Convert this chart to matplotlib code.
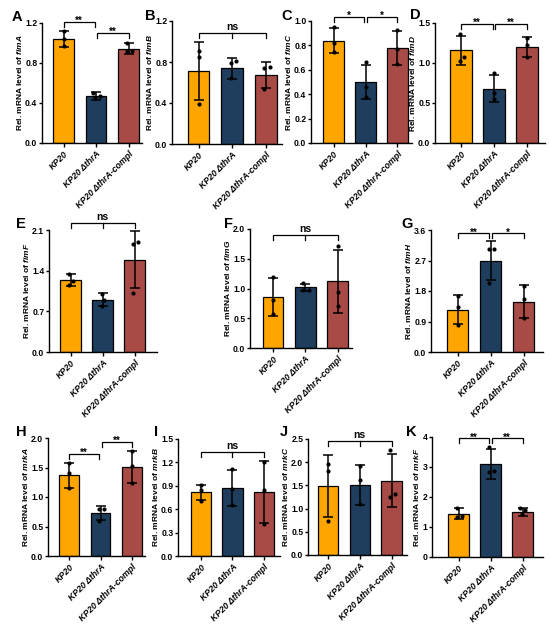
import matplotlib
matplotlib.use("Agg")
import matplotlib.pyplot as plt
import numpy as np

plt.rcParams['font.family'] = ['Liberation Sans', 'DejaVu Sans']
plt.rcParams['mathtext.fontset'] = 'custom'
plt.rcParams['mathtext.it'] = 'Liberation Sans:italic:bold'
plt.rcParams['mathtext.rm'] = 'Liberation Sans:bold'
plt.rcParams['mathtext.bf'] = 'Liberation Sans:bold'

# ---------------- data ----------------
groups = ["KP20", "KP20 \u0394thrA", "KP20 \u0394thrA-compl"]
bar_colors = ["#FFA500", "#1F3E5E", "#A84B46"]

fimA_mean = [1.04, 0.47, 0.945]
fimA_sd = [0.08, 0.04, 0.055]
fimA_pts = [[1.12, 1.04, 0.97], [0.50, 0.47, 0.45], [1.00, 0.92, 0.92]]

fimB_mean = [0.712, 0.738, 0.673]
fimB_sd = [0.285, 0.10, 0.125]
fimB_pts = [[0.91, 0.85, 0.39], [0.81, 0.79, 0.64], [0.75, 0.74, 0.54]]

fimC_mean = [0.84, 0.50, 0.78]
fimC_sd = [0.105, 0.14, 0.14]
fimC_pts = [[0.95, 0.82, 0.75], [0.66, 0.46, 0.38], [0.93, 0.77, 0.65]]

fimD_mean = [1.16, 0.68, 1.20]
fimD_sd = [0.18, 0.17, 0.125]
fimD_pts = [[1.36, 1.08, 1.03], [0.87, 0.62, 0.55], [1.31, 1.23, 1.08]]

fimF_mean = [1.24, 0.90, 1.59]
fimF_sd = [0.10, 0.115, 0.495]
fimF_pts = [[1.34, 1.23, 1.16], [1.00, 0.89, 0.80], [1.90, 1.86, 1.01]]

fimG_mean = [0.86, 1.02, 1.12]
fimG_sd = [0.32, 0.06, 0.53]
fimG_pts = [[1.19, 0.81, 0.57], [1.10, 0.98, 0.98], [1.72, 0.94, 0.70]]

fimH_mean = [1.25, 2.70, 1.49]
fimH_sd = [0.42, 0.57, 0.50]
fimH_pts = [[1.64, 1.32, 0.80], [3.03, 3.03, 2.05], [1.95, 1.55, 1.00]]

mrkA_mean = [1.365, 0.73, 1.51]
mrkA_sd = [0.21, 0.12, 0.27]
mrkA_pts = [[1.57, 1.40, 1.15], [0.80, 0.79, 0.60], [1.78, 1.53, 1.245]]

mrkB_mean = [0.815, 0.87, 0.82]
mrkB_sd = [0.10, 0.235, 0.395]
mrkB_pts = [[0.91, 0.84, 0.70], [1.12, 0.86, 0.65], [1.21, 0.85, 0.41]]

mrkC_mean = [1.49, 1.51, 1.60]
mrkC_sd = [0.67, 0.43, 0.57]
mrkC_pts = [[1.96, 1.82, 0.74], [1.91, 1.61, 1.09], [2.27, 1.31, 1.25]]

mrkF_mean = [1.445, 3.10, 1.51]
mrkF_sd = [0.18, 0.50, 0.13]
mrkF_pts = [[1.62, 1.36, 1.34], [3.68, 2.86, 2.82], [1.63, 1.56, 1.42]]

fimA_ticks = [0.0, 0.4, 0.8, 1.2]
fimB_ticks = [0.0, 0.4, 0.8, 1.2]
fimC_ticks = [0.0, 0.2, 0.4, 0.6, 0.8, 1.0]
fimD_ticks = [0.0, 0.5, 1.0, 1.5]
fimF_ticks = [0.0, 0.7, 1.4, 2.1]
fimG_ticks = [0.0, 0.5, 1.0, 1.5, 2.0]
fimH_ticks = [0.0, 0.9, 1.8, 2.7, 3.6]
mrkA_ticks = [0.0, 0.5, 1.0, 1.5, 2.0]
mrkB_ticks = [0.0, 0.3, 0.6, 0.9, 1.2, 1.5]
mrkC_ticks = [0.0, 0.5, 1.0, 1.5, 2.0, 2.5]
mrkF_ticks = [0, 1, 2, 3, 4]

# significance: (group i, group j, height, label)
fimA_sig = [(0, 1, 1.213, "**"), (1, 2, 1.103, "**")]
fimB_sig = [(0, 2, 1.086, "ns")]
fimC_sig = [(0, 1, 1.035, "*"), (1, 2, 1.035, "*")]
fimD_sig = [(0, 1, 1.49, "**"), (1, 2, 1.49, "**")]
fimF_sig = [(0, 2, 2.225, "ns")]
fimG_sig = [(0, 2, 1.90, "ns")]
fimH_sig = [(0, 1, 3.50, "**"), (1, 2, 3.50, "*")]
mrkA_sig = [(0, 1, 1.73, "**"), (1, 2, 1.935, "**")]
mrkB_sig = [(0, 2, 1.33, "ns")]
mrkC_sig = [(0, 2, 2.46, "ns")]
mrkF_sig = [(0, 1, 3.96, "**"), (1, 2, 3.96, "**")]

W, H = 550, 634
fig = plt.figure(figsize=(W / 100, H / 100), dpi=100)

# layout: letter, gene, data..., (left, top, right, bottom, first centre, spacing) in px, letter pos
panels = [
    ("A", "fimA", fimA_mean, fimA_sd, fimA_pts, fimA_ticks, fimA_sig, (42, 23, 142, 143, 63.5, 32.5), (12, 21)),
    ("B", "fimB", fimB_mean, fimB_sd, fimB_pts, fimB_ticks, fimB_sig, (172, 21, 282, 144, 198.5, 33.75), (145, 20)),
    ("C", "fimC", fimC_mean, fimC_sd, fimC_pts, fimC_ticks, fimC_sig, (311, 21, 412, 143, 333.5, 32), (281, 20)),
    ("D", "fimD", fimD_mean, fimD_sd, fimD_pts, fimD_ticks, fimD_sig, (435, 23, 545, 143, 461, 33), (410, 19)),
    ("E", "fimF", fimF_mean, fimF_sd, fimF_pts, fimF_ticks, fimF_sig, (49, 230, 157, 352, 70.5, 32), (16, 228)),
    ("F", "fimG", fimG_mean, fimG_sd, fimG_pts, fimG_ticks, fimG_sig, (250, 229, 352, 348, 273, 32.3), (224, 228)),
    ("G", "fimH", fimH_mean, fimH_sd, fimH_pts, fimH_ticks, fimH_sig, (431, 230, 543, 352, 457.5, 33), (401, 228)),
    ("H", "mrkA", mrkA_mean, mrkA_sd, mrkA_pts, mrkA_ticks, mrkA_sig, (48, 438, 145, 556, 69.3, 31.2), (16, 436)),
    ("I", "mrkB", mrkB_mean, mrkB_sd, mrkB_pts, mrkB_ticks, mrkB_sig, (178, 439, 280, 556, 201, 31.5), (154, 436)),
    ("J", "mrkC", mrkC_mean, mrkC_sd, mrkC_pts, mrkC_ticks, mrkC_sig, (308, 439, 407, 555, 328, 31.75), (280, 436)),
    ("K", "mrkF", mrkF_mean, mrkF_sd, mrkF_pts, mrkF_ticks, mrkF_sig, (432, 437, 543, 557, 458.5, 32), (406, 436)),
]


def swarm(ypx, D):
    order = np.argsort(ypx)
    xs = {}
    for i in order:
        best = None
        cands = [0.0]
        for j, xj in xs.items():
            dy = ypx[i] - ypx[j]
            if abs(dy) < D:
                dx = np.sqrt(D * D - dy * dy)
                cands += [xj + dx, xj - dx]
        cands.sort(key=abs)
        for c in cands:
            ok = all(np.hypot(c - xj, ypx[i] - ypx[j]) >= D - 1e-6 for j, xj in xs.items())
            if ok:
                best = c
                break
        xs[i] = best
    off = np.array([xs[i] for i in range(len(ypx))])
    if np.any(off != 0):
        off = off - off.mean()
    return off


for letter, gene, mean, sd, pts, ticks, sig, (l, t, r, b, c0, s), (lx, ly) in panels:
    ax = fig.add_axes([l / W, 1 - b / H, (r - l) / W, (b - t) / H])
    x0, x1 = (l - c0) / s, (r - c0) / s
    ymax = ticks[-1]
    ax.set_xlim(x0, x1)
    ax.set_ylim(0, ymax)
    ppu_y = (b - t) / ymax
    ppu_x = s
    xs = np.arange(3)
    ax.bar(xs, mean, width=0.64, color=bar_colors, edgecolor="black", linewidth=0.9, zorder=2)
    ax.errorbar(xs, mean, yerr=sd, fmt="none", ecolor="black", elinewidth=1.1,
                capsize=3.3, capthick=1.1, zorder=3, clip_on=False)
    for k in range(3):
        yv = np.array(pts[k])
        off = swarm(yv * ppu_y, 5.5) / ppu_x
        ax.scatter(k + off, yv, s=9, color="black", zorder=4, clip_on=False, linewidths=0)
    # significance brackets
    drop = 5.0 / ppu_y
    for (i, j, yb, lab) in sig:
        inset = 0.04 if (j - i) == 1 else 0.0
        xa, xb = i + (inset if i == 1 else 0), j - (inset if j == 1 else 0)
        ax.plot([xa, xa, xb, xb], [yb - drop, yb, yb, yb - drop], color="black",
                lw=0.9, clip_on=False, zorder=5, solid_joinstyle="miter")
        if lab == "ns":
            ax.plot([1, 1], [yb, yb - drop], color="black", lw=0.9, clip_on=False, zorder=5)
            ax.annotate(lab, xy=((xa + xb) / 2, yb), xytext=(0, 2.0), textcoords="offset points",
                        ha="center", va="baseline", fontsize=7.5, fontweight="bold", annotation_clip=False)
        else:
            ax.annotate(lab, xy=((xa + xb) / 2, yb), xytext=(0, -1.6), textcoords="offset points",
                        ha="center", va="baseline", fontsize=7, fontweight="bold", annotation_clip=False)
    # axes styling
    for sp in ["top", "right"]:
        ax.spines[sp].set_visible(False)
    for sp in ["left", "bottom"]:
        ax.spines[sp].set_linewidth(1.0)
    ax.set_yticks(ticks)
    if isinstance(ticks[0], int):
        ax.set_yticklabels([str(v) for v in ticks])
    else:
        ax.set_yticklabels([f"{v:.1f}" for v in ticks])
    ax.set_xticks(xs)
    ax.set_xticklabels(groups, rotation=45, ha="right", va="top", rotation_mode="anchor",
                       fontsize=6.3, fontweight="bold", fontstyle="italic")
    ax.tick_params(axis="x", direction="out", length=3, width=1.0, pad=1.5)
    ax.tick_params(axis="y", direction="out", length=2.4, width=1.0, pad=1.0, labelsize=6.2)
    for lbl in ax.get_yticklabels():
        lbl.set_fontweight("bold")
    ax.set_ylabel("Rel. mRNA level of $\\mathit{" + gene + "}$", fontsize=6.0,
                  fontweight="bold", labelpad=0.8)
    fig.text(lx / W, 1 - ly / H, letter, fontsize=10.5, fontweight="bold", ha="left", va="baseline")

fig.savefig("out.png", dpi=100)
